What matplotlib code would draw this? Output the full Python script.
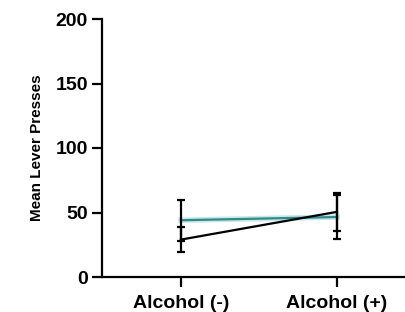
import matplotlib.pyplot as plt
import numpy as np

plt.rcParams['font.family'] = ['Liberation Sans', 'DejaVu Sans']

# data
groups = ["Alcohol (-)", "Alcohol (+)"]
teal_mean = [44, 46.5]
teal_err = [16, 17]
black_mean = [29, 50.5]
black_err = [10, 15]

fig = plt.figure(figsize=(4.06, 3.12), dpi=100)
ax = fig.add_axes([102 / 406, 35 / 312, 304 / 406, 258 / 312])

x = np.arange(len(groups))

# teal series, with a faint halo like the original
ax.plot(x, teal_mean, color="#c8e8e8", lw=4, zorder=2)
ax.plot(x, teal_mean, color="#2f8a8a", lw=1.6, zorder=3)
ax.errorbar(x, teal_mean, yerr=teal_err, fmt="none", ecolor="black",
            elinewidth=1.6, capsize=3, capthick=1.6, zorder=4)

ax.plot(x, black_mean, color="black", lw=1.6, zorder=5)
ax.errorbar(x, black_mean, yerr=black_err, fmt="none", ecolor="black",
            elinewidth=1.6, capsize=3, capthick=1.6, zorder=5)

ax.set_xlim(-0.506, 1.442)
ax.set_ylim(0, 200)
ax.set_yticks([0, 50, 100, 150, 200])
ax.set_xticks(x)
ax.set_xticklabels(groups)

for s in ["top", "right"]:
    ax.spines[s].set_visible(False)
for s in ["left", "bottom"]:
    ax.spines[s].set_linewidth(1.6)

ax.tick_params(axis="y", width=1.6, length=7, labelsize=14, pad=3)
ax.tick_params(axis="x", width=1.6, length=7, labelsize=14, pad=6)
for lbl in ax.get_xticklabels() + ax.get_yticklabels():
    lbl.set_fontweight("bold")

ax.set_ylabel("Mean Lever Presses", fontsize=11, fontweight="bold", labelpad=8)

fig.savefig("out.png", dpi=100)
